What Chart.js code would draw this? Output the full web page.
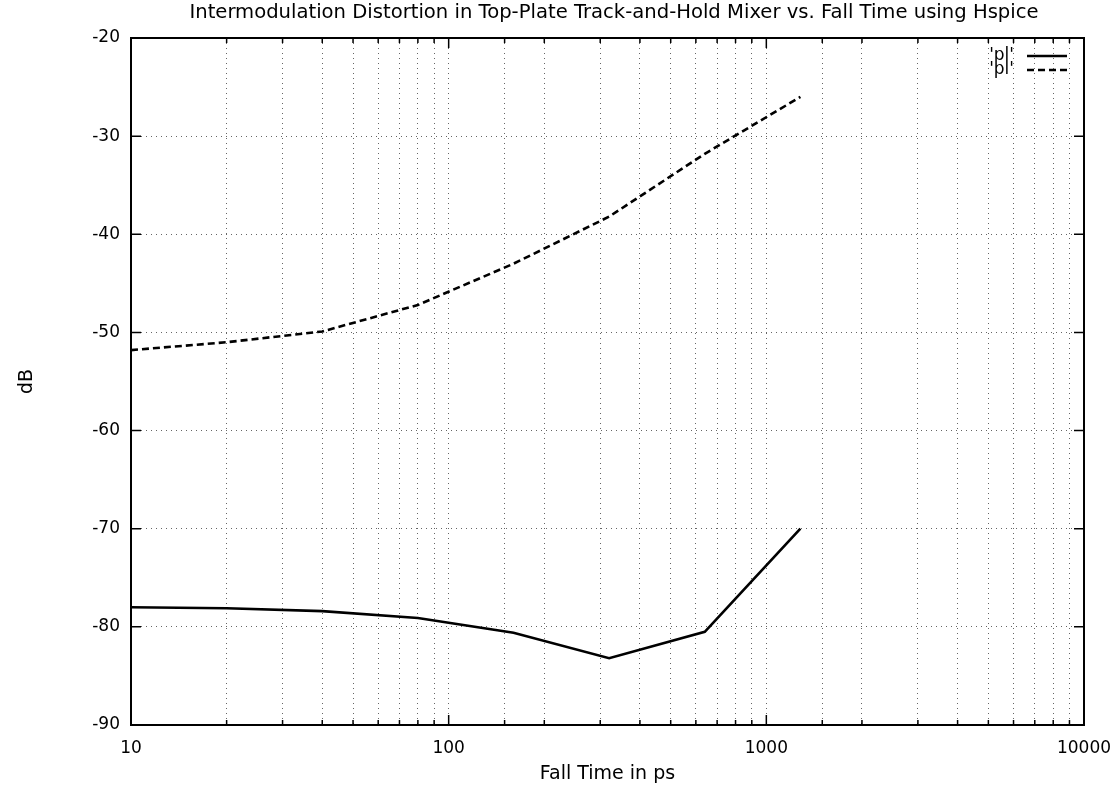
<!DOCTYPE html>
<html><head><meta charset="utf-8">
<script src="https://cdn.jsdelivr.net/npm/chart.js@4.4.1/dist/chart.umd.min.js"></script>
<style>html,body{margin:0;padding:0;background:#fff;}#wrap{width:1117px;height:785px;}</style>
</head><body><div id="wrap"><canvas id="c" width="1117" height="785"></canvas></div>
<script>
const fallTimes = [10, 20, 40, 80, 160, 320, 640, 1280];
const solidDb  = [-78.0, -78.1, -78.4, -79.1, -80.6, -83.2, -80.5, -70.0];
const dashedDb = [-51.8, -51.0, -49.9, -47.2, -43.0, -38.2, -31.8, -26.0];
const seriesLabels = ["'pl'", "'pl'"];
const xTickLabels = [10, 100, 1000, 10000];
const yTicks = [-90, -80, -70, -60, -50, -40, -30, -20];
const titleText = 'Intermodulation Distortion in Top-Plate Track-and-Hold Mixer vs. Fall Time using Hspice';
const xTitle = 'Fall Time in ps';
const yTitle = 'dB';
const FONT = '"DejaVu Sans", sans-serif';

const mk = (ys) => fallTimes.map((x, i) => ({x, y: ys[i]}));

const frame = {
  id: 'frame',
  afterDraw(chart) {
    const {ctx, chartArea: a} = chart;
    const xs = chart.scales.x, ys = chart.scales.y;
    ctx.save();
    ctx.fillStyle = '#000';
    ctx.textAlign = 'center';
    ctx.textBaseline = 'middle';
    ctx.font = '19.6px ' + FONT;
    ctx.fillText(titleText, 614, 13);
    ctx.font = '19px ' + FONT;
    ctx.fillText(xTitle, (a.left + a.right) / 2, 774);
    ctx.save();
    ctx.translate(27, (a.top + a.bottom) / 2);
    ctx.rotate(-Math.PI / 2);
    ctx.fillText(yTitle, 0, 0);
    ctx.restore();
    // inward tick marks
    ctx.strokeStyle = '#000';
    ctx.lineWidth = 1.5;
    xs.ticks.forEach(t => {
      const px = xs.getPixelForValue(t.value);
      const major = xTickLabels.includes(t.value);
      const len = major ? 10 : 5;
      ctx.beginPath();
      ctx.moveTo(px, a.bottom); ctx.lineTo(px, a.bottom - len);
      ctx.moveTo(px, a.top); ctx.lineTo(px, a.top + len);
      ctx.stroke();
    });
    ys.ticks.forEach(t => {
      const py = ys.getPixelForValue(t.value);
      ctx.beginPath();
      ctx.moveTo(a.left, py); ctx.lineTo(a.left + 10, py);
      ctx.moveTo(a.right, py); ctx.lineTo(a.right - 10, py);
      ctx.stroke();
    });
    ctx.lineWidth = 2;
    ctx.strokeRect(a.left, a.top, a.right - a.left, a.bottom - a.top);
    // legend
    chart.data.datasets.forEach((d, i) => {
      const y = 56 + i * 14;
      ctx.textAlign = 'right';
      ctx.font = '17px ' + FONT;
      ctx.fillText(d.label, 1014, y);
      ctx.beginPath();
      ctx.setLineDash(d.borderDash || []);
      ctx.lineWidth = 2.4;
      ctx.moveTo(1027, y);
      ctx.lineTo(1067, y);
      ctx.stroke();
    });
    ctx.restore();
  }
};

new Chart(document.getElementById('c'), {
  type: 'line',
  data: {
    datasets: [
      {label: seriesLabels[0], data: mk(solidDb), borderColor: '#000', borderWidth: 2.6, pointRadius: 0, tension: 0, fill: false},
      {label: seriesLabels[1], data: mk(dashedDb), borderColor: '#000', borderWidth: 2.6, borderDash: [7, 4], pointRadius: 0, tension: 0, fill: false}
    ]
  },
  options: {
    responsive: false,
    animation: false,
    layout: {padding: {top: 38, right: 33, left: 0, bottom: 0}},
    plugins: {legend: {display: false}, title: {display: false}, tooltip: {enabled: false}},
    scales: {
      x: {
        type: 'logarithmic', min: 10, max: 10000,
        afterFit(s) { s.height = 60; s.paddingLeft = 0; s.paddingRight = 0; },
        grid: {color: '#666', lineWidth: 1, drawTicks: false},
        border: {display: false, dash: [1, 4]},
        ticks: {
          autoSkip: false, maxRotation: 0, color: '#000', font: {size: 17, family: FONT}, padding: 13,
          callback(v) { return xTickLabels.includes(v) ? String(v) : ''; }
        }
      },
      y: {
        type: 'linear', min: -90, max: -20,
        afterFit(s) { s.width = 131; s.paddingTop = 0; s.paddingBottom = 0; },
        afterBuildTicks(s) { s.ticks = yTicks.map(v => ({value: v})); },
        grid: {color: '#666', lineWidth: 1, drawTicks: false},
        border: {display: false, dash: [1, 4]},
        ticks: {color: '#000', font: {size: 17, family: FONT}, padding: 11}
      }
    }
  },
  plugins: [frame]
});
</script>
</body></html>
